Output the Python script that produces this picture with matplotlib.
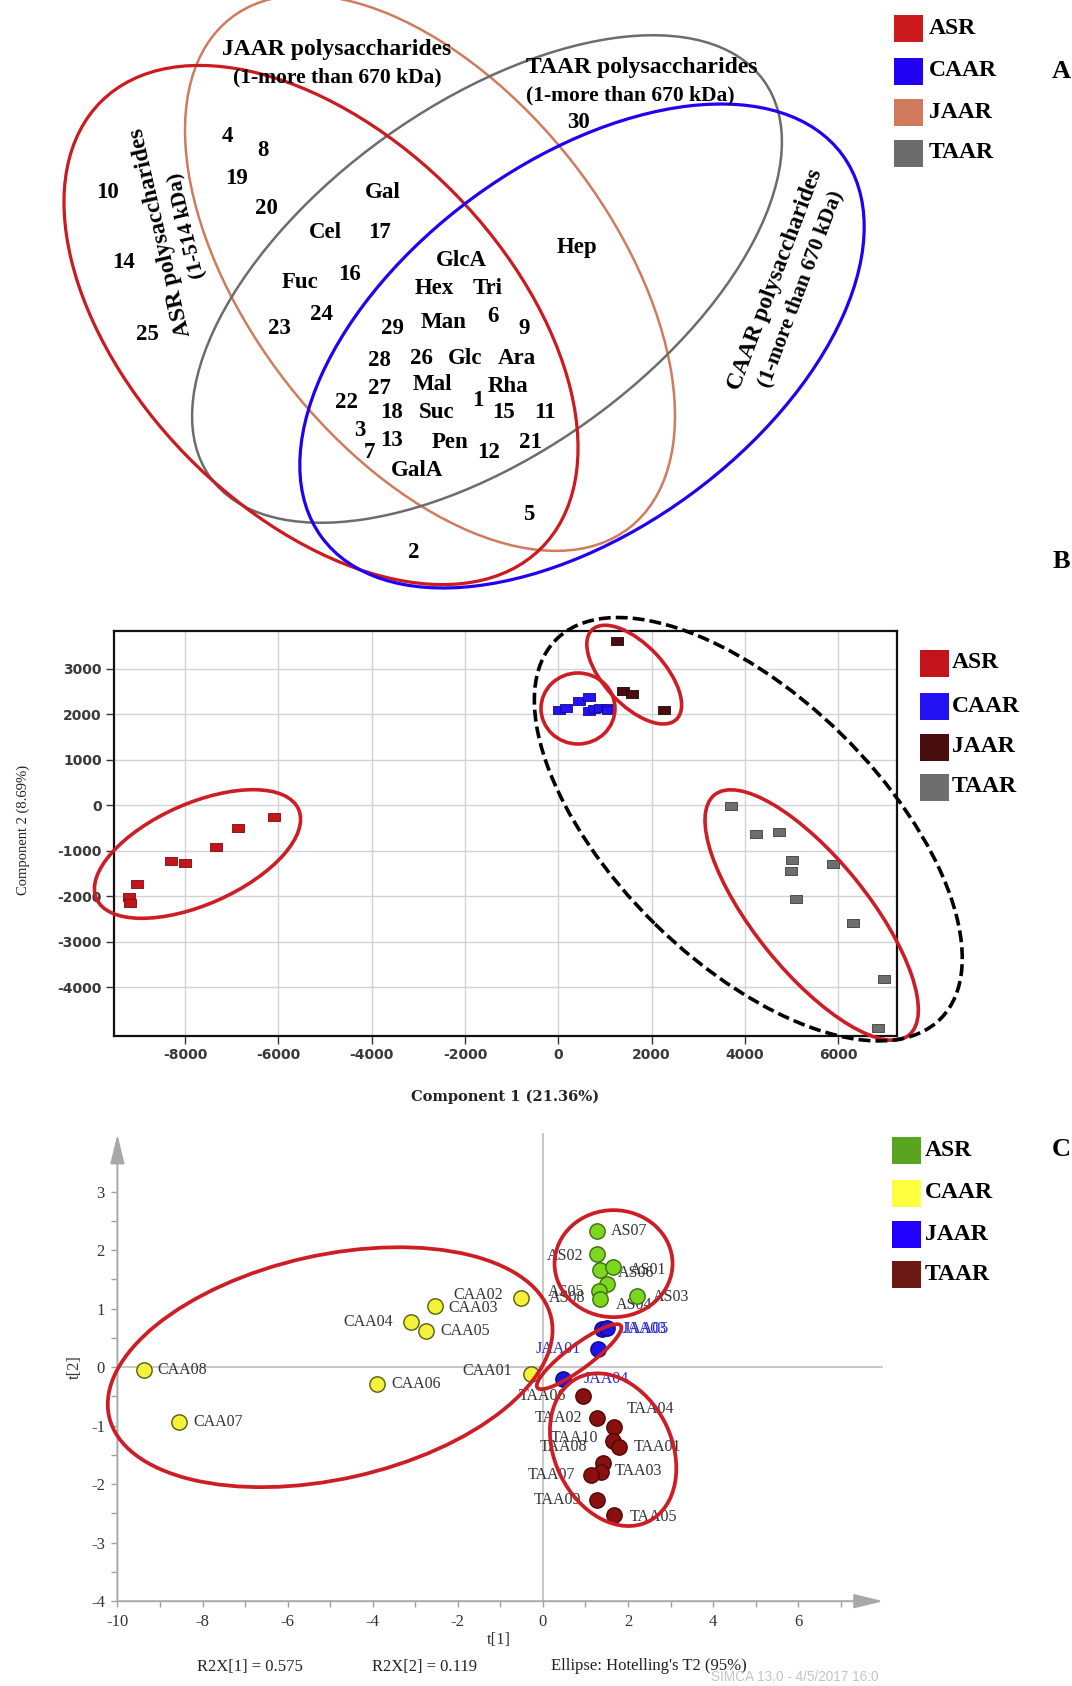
import matplotlib
matplotlib.use("Agg")
import matplotlib.pyplot as plt
from matplotlib.patches import Ellipse, Rectangle
from matplotlib.transforms import ScaledTranslation
from matplotlib.ticker import FixedLocator

plt.rcParams['font.family'] = ['Liberation Serif', 'DejaVu Serif']

W, H = 1072, 1686

# ---------------- Panel A: shared sugar components ----------------
venn_groups = ['ASR', 'CAAR', 'JAAR', 'TAAR']
venn_colors = ['#cc1a1f', '#2200f2', '#d07b5d', '#6c6c6c']
venn_items = ['10', '14', '25', '4', '8', '19', '20', 'Gal', 'Cel', '17', 'Fuc', '16',
              '24', '23', 'GlcA', 'Hex', 'Tri', 'Hep', '30', '29', 'Man', '6', '9',
              '28', '26', 'Glc', 'Ara', '27', 'Mal', '1', 'Rha', '22', '18', 'Suc',
              '15', '11', '3', '7', '13', 'Pen', '12', '21', 'GalA', '5', '2']
venn_item_xy = [(107, 192), (123, 263), (147, 335), (227, 137), (263, 151), (237, 178),
                (266, 208), (383, 192), (325, 233), (380, 233), (300, 282), (349, 275),
                (321, 315), (279, 329), (461, 261), (434, 288), (488, 288), (577, 248),
                (578, 122), (392, 329), (444, 322), (493, 317), (524, 328), (379, 360),
                (421, 358), (465, 358), (517, 358), (379, 389), (432, 385), (478, 400),
                (508, 387), (346, 403), (392, 413), (437, 413), (503, 412), (545, 412),
                (360, 430), (369, 452), (392, 440), (450, 442), (489, 452), (530, 442),
                (417, 470), (529, 515), (414, 553)]

# ---------------- Panel B: PCA scores (Component 1 / Component 2) ----------------
b_groups = ['ASR', 'CAAR', 'JAAR', 'TAAR']
b_colors = ['#c4141b', '#2412f2', '#4a0d0f', '#6e6e6e']
b_edges = ['#7a0a0e', '#10088a', '#200505', '#3c3c3c']
b_asr_x = [-6086, -6860, -7342, -8009, -8306, -9033, -9209, -9170]
b_asr_y = [-257, -490, -916, -1268, -1224, -1730, -2015, -2147]
b_caar_x = [24, 167, 452, 667, 667, 774, 896, 1040, 1074]
b_caar_y = [2088, 2138, 2292, 2380, 2073, 2116, 2147, 2147, 2088]
b_jaar_x = [1254, 1396, 1576, 2274]
b_jaar_y = [3626, 2512, 2455, 2103]
b_taar_x = [3694, 4236, 4720, 5014, 4984, 5882, 5104, 6312, 6976, 6856]
b_taar_y = [-22, -637, -587, -1209, -1444, -1282, -2051, -2578, -3817, -4886]
b_xticks = [-8000, -6000, -4000, -2000, 0, 2000, 4000, 6000]
b_yticks = [-4000, -3000, -2000, -1000, 0, 1000, 2000, 3000]

# ---------------- Panel C: PCA scores t[1] / t[2] ----------------
c_groups = ['ASR', 'CAAR', 'JAAR', 'TAAR']
c_legend_colors = ['#5aa520', '#ffff40', '#2200ff', '#6b1a14']
c_fill = ['#7bd81f', '#f2f23a', '#1c14e6', '#8a1010']
c_edge = ['#3a6e12', '#5a5a14', '#0c0c80', '#4a0808']
c_asr_names = ['AS07', 'AS02', 'AS06', 'AS01', 'AS04', 'AS05', 'AS08', 'AS03']
c_asr_t1 = [1.28, 1.28, 1.34, 1.65, 1.51, 1.33, 1.34, 2.20]
c_asr_t2 = [2.32, 1.93, 1.66, 1.71, 1.42, 1.31, 1.16, 1.22]
c_caar_names = ['CAA08', 'CAA07', 'CAA06', 'CAA04', 'CAA05', 'CAA03', 'CAA02', 'CAA01']
c_caar_t1 = [-9.38, -8.55, -3.89, -3.09, -2.75, -2.54, -0.51, -0.28]
c_caar_t2 = [-0.05, -0.94, -0.29, 0.78, 0.62, 1.04, 1.18, -0.11]
c_jaar_names = ['JAA03', 'JAA05', 'JAA01', 'JAA04']
c_jaar_t1 = [1.38, 1.51, 1.29, 0.48]
c_jaar_t2 = [0.65, 0.67, 0.31, -0.21]
c_taar_names = ['TAA06', 'TAA02', 'TAA04', 'TAA10', 'TAA01', 'TAA03', 'TAA08', 'TAA07',
                'TAA09', 'TAA05']
c_taar_t1 = [0.94, 1.28, 1.68, 1.65, 1.80, 1.41, 1.37, 1.13, 1.26, 1.67]
c_taar_t2 = [-0.50, -0.86, -1.03, -1.27, -1.36, -1.64, -1.79, -1.85, -2.27, -2.53]
c_xticks = [-10, -8, -6, -4, -2, 0, 2, 4, 6]
c_yticks = [-4, -3, -2, -1, 0, 1, 2, 3]

# label placement (pixel offsets from each point; side of the text)
c_label_place = {
    'AS07': (13, 0, 'left'), 'AS02': (-14, 2, 'right'), 'AS06': (18, 3, 'left'),
    'AS01': (17, 3, 'left'), 'AS04': (9, 21, 'left'), 'AS05': (-15, 1, 'right'),
    'AS08': (-15, -1, 'right'), 'AS03': (16, 1, 'left'),
    'CAA08': (14, 0, 'left'), 'CAA07': (14, 0, 'left'), 'CAA06': (14, 0, 'left'),
    'CAA04': (-18, 0, 'right'), 'CAA05': (14, 0, 'left'), 'CAA03': (14, 2, 'left'),
    'CAA02': (-18, -3, 'right'), 'CAA01': (-19, -3, 'right'),
    'JAA03': (20, 0, 'left'), 'JAA05': (16, 1, 'left'), 'JAA01': (-17, 0, 'right'),
    'JAA04': (20, 0, 'left'),
    'TAA06': (-17, 0, 'right'), 'TAA02': (-15, 0, 'right'), 'TAA04': (12, -18, 'left'),
    'TAA10': (-15, -3, 'right'), 'TAA01': (14, 0, 'left'), 'TAA03': (12, 8, 'left'),
    'TAA08': (-14, -25, 'right'), 'TAA07': (-16, 0, 'right'), 'TAA09': (-15, 0, 'right'),
    'TAA05': (16, 2, 'left'),
}

fig = plt.figure(figsize=(W / 100, H / 100), dpi=100)
fig.patch.set_facecolor('white')


def px_axes(l, t, r, b):
    return fig.add_axes([l / W, 1 - b / H, (r - l) / W, (b - t) / H])


def ring(ax, cx, cy, w, h, ang, color='#cc1e24', lw=2.6, ls='-'):
    """Outline drawn around a cluster: centre in data units, size in pixels."""
    e = Ellipse((0, 0), w, h, angle=ang, fill=False, edgecolor=color, lw=lw, ls=ls,
                transform=ScaledTranslation(cx, cy, ax.transData), clip_on=False,
                zorder=6)
    ax.add_patch(e)


# ======================= Panel B =======================
axB = px_axes(113.6, 631, 896.6, 1036)
axB.set_xlim(-9530, 7250)
axB.set_ylim(-5070, 3835)
axB.set_xticks(b_xticks)
axB.set_yticks(b_yticks)
axB.set_xticklabels([str(v) for v in b_xticks])
axB.set_yticklabels([str(v) for v in b_yticks])
axB.grid(True, color='#d2d2d2', lw=1.0)
axB.set_axisbelow(True)
for s in axB.spines.values():
    s.set_linewidth(1.6)
    s.set_color('#111111')
axB.tick_params(direction='out', length=5.5, width=1, color='#333333', pad=3,
                labelsize=10, labelcolor='#3a3a3a')
for lab in axB.get_xticklabels() + axB.get_yticklabels():
    lab.set_family('DejaVu Sans')
    lab.set_fontweight('bold')

rect_marker = [(-1, -0.62), (1, -0.62), (1, 0.62), (-1, 0.62), (-1, -0.62)]
for xs, ys, fc, ec in zip([b_asr_x, b_caar_x, b_jaar_x, b_taar_x],
                          [b_asr_y, b_caar_y, b_jaar_y, b_taar_y], b_colors, b_edges):
    axB.plot(xs, ys, ls='none', marker=rect_marker, ms=8.6, mfc=fc, mec=ec, mew=0.6,
             zorder=4, clip_on=False)

ring(axB, -7732, -1068, 221, 101, 23.9)
ring(axB, 422, 2131, 74, 71, 0)
ring(axB, 1627, 2876, 123, 60, -46.9)
ring(axB, 5430, -2410, 309, 113, -51)
ring(axB, 4072, -523, 540, 266, -44.5, color='black', lw=2.6, ls=(0, (3.3, 1.4)))

# ======================= Panel C =======================
axC = px_axes(117.4, 1133.2, 883.3, 1601.2)
axC.set_xlim(-10, 8)
axC.set_ylim(-4, 4)
for s in axC.spines.values():
    s.set_visible(False)
axC.xaxis.set_major_locator(FixedLocator(c_xticks))
axC.yaxis.set_major_locator(FixedLocator(c_yticks))
axC.xaxis.set_minor_locator(FixedLocator(list(range(-9, 8, 2))))
axC.yaxis.set_minor_locator(FixedLocator([v + 0.5 for v in c_yticks]))
axC.set_xticklabels([str(v) for v in c_xticks])
axC.set_yticklabels([str(v) for v in c_yticks])
axC.tick_params(which='both', direction='out', length=4, width=1, color='#a0a0a0',
                labelsize=12, labelcolor='#333333', pad=5)
axC.axhline(0, color='#c4c4c4', lw=1.3, zorder=1)
axC.axvline(0, color='#c4c4c4', lw=1.3, zorder=1)
arrow = dict(arrowstyle='-|>,head_length=0.9,head_width=0.22', color='#a8a8a8', lw=1.4,
             mutation_scale=20, shrinkA=0, shrinkB=0)
axC.annotate('', xy=(8.0, -4), xytext=(-10, -4), arrowprops=arrow, annotation_clip=False)
axC.annotate('', xy=(-10, 3.98), xytext=(-10, -4), arrowprops=arrow, annotation_clip=False)

label_colors = ['#333333', '#333333', '#2a2ad0', '#333333']
for names, xs, ys, fc, ec, lc in zip(
        [c_asr_names, c_caar_names, c_jaar_names, c_taar_names],
        [c_asr_t1, c_caar_t1, c_jaar_t1, c_taar_t1],
        [c_asr_t2, c_caar_t2, c_jaar_t2, c_taar_t2],
        c_fill, c_edge, label_colors):
    axC.scatter(xs, ys, s=122, c=fc, edgecolors=ec, linewidths=1.0, zorder=4,
                clip_on=False)
    for n, x, y in zip(names, xs, ys):
        dx, dy, ha = c_label_place[n]
        axC.annotate(n, (x, y), xytext=(dx * 0.72, -dy * 0.72), textcoords='offset points',
                     ha=ha, va='center', fontsize=11.5, color=lc, zorder=3)

ring(axC, -5.0, 0.0, 453, 224, 12.6, lw=2.7)
ring(axC, 1.66, 1.77, 118, 107, 0, lw=2.7)
ring(axC, 0.85, 0.18, 104, 24, 36.7, lw=2.7)
ring(axC, 1.65, -1.41, 160, 117, -64, lw=2.7)

# ======================= Overlay: Venn diagram, legends, captions =======================
ov = px_axes(0, 0, W, H)
ov.set_xlim(0, W)
ov.set_ylim(H, 0)
ov.axis('off')
ov.patch.set_visible(False)

venn_shapes = {'ASR': ((321, 325), 627, 375, 45.6, 2.3),
               'JAAR': ((430, 273), 647, 361, 51.9, 1.8),
               'TAAR': ((487, 279), 681, 349, -35.6, 1.8),
               'CAAR': ((582, 346), 646, 368, -36.3, 2.3)}
for g in ['JAAR', 'TAAR', 'ASR', 'CAAR']:
    (cx, cy), w, h, a, lw = venn_shapes[g]
    ov.add_patch(Ellipse((cx, cy), w, h, angle=a, fill=False, lw=lw,
                         edgecolor=venn_colors[venn_groups.index(g)], clip_on=False))

bold = dict(fontweight='bold', color='black')
for name, (x, y) in zip(venn_items, venn_item_xy):
    ov.text(x, y, name, ha='center', va='center', fontsize=16.5, **bold)

ov.text(337, 50, 'JAAR polysaccharides', ha='center', va='center', fontsize=17, **bold)
ov.text(337, 77, '(1-more than 670 kDa)', ha='center', va='center', fontsize=15.5, **bold)
ov.text(642, 67, 'TAAR polysaccharides', ha='center', va='center', fontsize=17, **bold)
ov.text(630, 95, '(1-more than 670 kDa)', ha='center', va='center', fontsize=15.5, **bold)
ov.text(161, 232, 'ASR polysaccharides', ha='center', va='center', fontsize=17,
        rotation=103, rotation_mode='anchor', **bold)
ov.text(187, 226, '(1-514 kDa)', ha='center', va='center', fontsize=15.5,
        rotation=103, rotation_mode='anchor', **bold)
ov.text(775, 280, 'CAAR polysaccharides', ha='center', va='center', fontsize=17,
        rotation=69.4, rotation_mode='anchor', **bold)
ov.text(801, 289, '(1-more than 670 kDa)', ha='center', va='center', fontsize=15.5,
        rotation=69.4, rotation_mode='anchor', **bold)


def legend_block(x0, centers, labels, colors, x_text, w=29, h=27):
    for yc, lab, col in zip(centers, labels, colors):
        ov.add_patch(Rectangle((x0, yc - h / 2), w, h, facecolor=col, edgecolor='none'))
        ov.text(x_text, yc, lab, ha='left', va='center', fontsize=17, **bold)


legend_block(894, [28, 71, 112, 153], venn_groups, venn_colors, 929)
legend_block(919.5, [663, 706, 747, 787], b_groups, b_colors, 952)
legend_block(892, [1150, 1193, 1234, 1274], c_groups, c_legend_colors, 925)

for letter, y in [('A', 72), ('B', 561), ('C', 1150)]:
    ov.text(1061, y, letter, ha='center', va='center', fontsize=19, **bold)

# axis titles for panel B
ov.text(505, 1097, 'Component 1 (21.36%)', ha='center', va='center', fontsize=10.5,
        fontweight='bold', color='#222222', family=['DejaVu Serif'])
ov.text(23, 830, 'Component 2 (8.69%)', ha='center', va='center', fontsize=10.5,
        rotation=90, color='#222222')

# axis titles and footer for panel C
ov.text(499, 1640, 't[1]', ha='center', va='center', fontsize=12, color='#333333')
ov.text(75, 1367, 't[2]', ha='center', va='center', fontsize=12, rotation=90,
        color='#333333')
ov.text(250, 1667, 'R2X[1] = 0.575', ha='center', va='center', fontsize=12,
        color='#222222')
ov.text(424, 1667, 'R2X[2] = 0.119', ha='center', va='center', fontsize=12,
        color='#222222')
ov.text(551, 1666, "Ellipse: Hotelling's T2 (95%)", ha='left', va='center', fontsize=12,
        color='#222222')
ov.text(711, 1677, 'SIMCA 13.0 - 4/5/2017 16:0', ha='left', va='center', fontsize=9.8,
        color='#c4c4c4', family=['Liberation Sans', 'DejaVu Sans'])

fig.savefig('out.png', dpi=100, facecolor='white')
